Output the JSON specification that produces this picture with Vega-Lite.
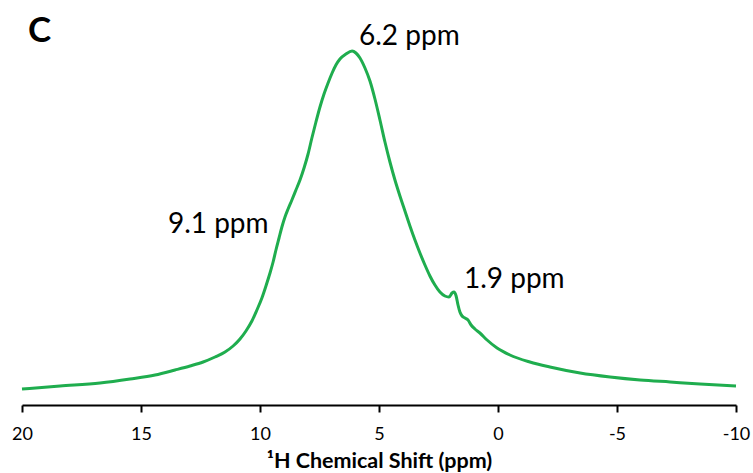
{
  "$schema": "https://vega.github.io/schema/vega-lite/v6.json",
  "width": 714,
  "height": 381,
  "autosize": "none",
  "padding": {"left": 22, "top": 24, "right": 17, "bottom": 68},
  "background": "white",
  "config": {"view": {"stroke": null}, "font": "Lato"},
  "datasets": {
    "spectrum": [
      {"ppm": 20.0, "I": 16}, {"ppm": 18.4, "I": 19}, {"ppm": 16.72, "I": 22}, {"ppm": 15.46, "I": 26},
      {"ppm": 14.41, "I": 30}, {"ppm": 13.57, "I": 35}, {"ppm": 12.94, "I": 39}, {"ppm": 12.39, "I": 43},
      {"ppm": 11.89, "I": 48}, {"ppm": 11.47, "I": 53}, {"ppm": 11.13, "I": 59}, {"ppm": 10.84, "I": 66},
      {"ppm": 10.59, "I": 74}, {"ppm": 10.34, "I": 84}, {"ppm": 10.13, "I": 95}, {"ppm": 9.92, "I": 107},
      {"ppm": 9.75, "I": 119}, {"ppm": 9.58, "I": 132}, {"ppm": 9.45, "I": 143}, {"ppm": 9.33, "I": 155},
      {"ppm": 9.2, "I": 167}, {"ppm": 9.08, "I": 178}, {"ppm": 8.95, "I": 188}, {"ppm": 8.82, "I": 196},
      {"ppm": 8.66, "I": 205}, {"ppm": 8.49, "I": 215}, {"ppm": 8.32, "I": 225}, {"ppm": 8.15, "I": 237},
      {"ppm": 7.98, "I": 251}, {"ppm": 7.82, "I": 267}, {"ppm": 7.65, "I": 283}, {"ppm": 7.48, "I": 298},
      {"ppm": 7.31, "I": 311}, {"ppm": 7.14, "I": 322}, {"ppm": 6.97, "I": 332}, {"ppm": 6.81, "I": 340},
      {"ppm": 6.64, "I": 346}, {"ppm": 6.39, "I": 351}, {"ppm": 6.13, "I": 354},
      {"ppm": 5.97, "I": 352}, {"ppm": 5.8, "I": 347}, {"ppm": 5.59, "I": 337}, {"ppm": 5.38, "I": 324},
      {"ppm": 5.17, "I": 306}, {"ppm": 4.96, "I": 285}, {"ppm": 4.75, "I": 263}, {"ppm": 4.54, "I": 243},
      {"ppm": 4.33, "I": 225}, {"ppm": 4.12, "I": 209}, {"ppm": 3.91, "I": 194}, {"ppm": 3.7, "I": 179},
      {"ppm": 3.49, "I": 165}, {"ppm": 3.28, "I": 152}, {"ppm": 3.07, "I": 140}, {"ppm": 2.86, "I": 129},
      {"ppm": 2.65, "I": 120}, {"ppm": 2.44, "I": 113}, {"ppm": 2.23, "I": 109}, {"ppm": 2.06, "I": 108},
      {"ppm": 1.93, "I": 112}, {"ppm": 1.85, "I": 113}, {"ppm": 1.76, "I": 109}, {"ppm": 1.68, "I": 100},
      {"ppm": 1.6, "I": 93}, {"ppm": 1.51, "I": 89}, {"ppm": 1.39, "I": 87}, {"ppm": 1.26, "I": 85},
      {"ppm": 1.13, "I": 80}, {"ppm": 0.97, "I": 76}, {"ppm": 0.76, "I": 72}, {"ppm": 0.46, "I": 65},
      {"ppm": 0.04, "I": 57}, {"ppm": -0.5, "I": 50}, {"ppm": -1.34, "I": 43}, {"ppm": -2.18, "I": 38},
      {"ppm": -3.45, "I": 32}, {"ppm": -4.71, "I": 28}, {"ppm": -5.97, "I": 25}, {"ppm": -7.23, "I": 23},
      {"ppm": -8.49, "I": 21}, {"ppm": -10.0, "I": 19}
    ],
    "labels": [
      {"ppm": 5.84, "I": 360, "label": "6.2 ppm"},
      {"ppm": 13.87, "I": 172, "label": "9.1 ppm"},
      {"ppm": 1.43, "I": 117, "label": "1.9 ppm"}
    ],
    "panel": [
      {"ppm": 19.75, "I": 363, "label": "C"}
    ]
  },
  "layer": [
    {
      "data": {"name": "spectrum"},
      "mark": {"type": "line", "color": "#1fad4e", "strokeWidth": 3, "interpolate": "monotone"},
      "encoding": {
        "x": {
          "field": "ppm", "type": "quantitative",
          "scale": {"domain": [-10, 20], "reverse": true, "nice": false},
          "axis": {
            "values": [20, 15, 10, 5, 0, -5, -10],
            "labelExpr": "toString(datum.value)",
            "title": "¹H Chemical Shift (ppm)",
            "titleFontSize": 21.5, "titleFontWeight": "bold", "titleColor": "black", "titlePadding": 7,
            "labelFontSize": 18, "labelColor": "black", "labelPadding": 13,
            "domainColor": "black", "domainWidth": 2, "tickColor": "black", "tickWidth": 2, "tickSize": 7,
            "grid": false, "labelFlush": false
          }
        },
        "y": {
          "field": "I", "type": "quantitative",
          "scale": {"domain": [0, 381], "nice": false, "zero": true},
          "axis": null
        }
      }
    },
    {
      "data": {"name": "labels"},
      "mark": {"type": "text", "align": "left", "baseline": "alphabetic", "fontSize": 28, "color": "black", "clip": false},
      "encoding": {
        "x": {"field": "ppm", "type": "quantitative"},
        "y": {"field": "I", "type": "quantitative"},
        "text": {"field": "label"}
      }
    },
    {
      "data": {"name": "panel"},
      "mark": {"type": "text", "align": "left", "baseline": "alphabetic", "fontSize": 35, "fontWeight": "bold", "color": "black", "clip": false},
      "encoding": {
        "x": {"field": "ppm", "type": "quantitative"},
        "y": {"field": "I", "type": "quantitative"},
        "text": {"field": "label"}
      }
    }
  ]
}
